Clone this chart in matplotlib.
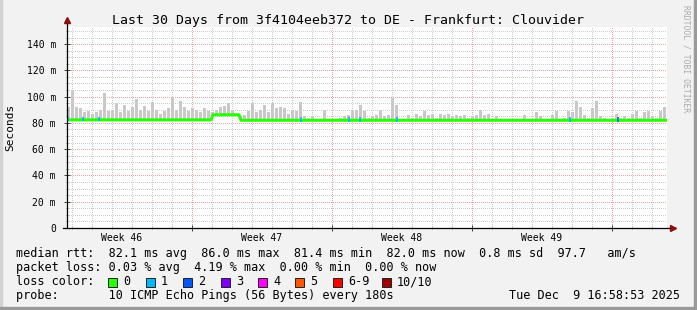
import matplotlib
matplotlib.use("Agg")
import matplotlib.pyplot as plt
import numpy as np
from matplotlib.patches import Rectangle

W, H = 697, 310
MONO = "DejaVu Sans Mono"
plt.rcParams["lines.scale_dashes"] = False

# smoke tops (ms), one value per 0.2 day bin over the 30 days
BIN_DAYS = 0.2
smoke_top = [
    92, 104, 92, 91, 88, 89, 87, 88, 90, 103, 89, 90, 95, 88, 94, 89, 92, 98, 90, 93,
    89, 96, 90, 87, 89, 91, 100, 90, 97, 92, 89, 91, 90, 88, 91, 89, 88, 90, 92, 93,
    95, 89, 87, 85, 86, 89, 95, 88, 90, 94, 88, 95, 91, 92, 91, 87, 90, 89, 96, 85,
    84, 85, 83, 83, 90, 83, 83, 82, 84, 85, 86, 89, 90, 94, 89, 84, 85, 86, 90, 85,
    86, 99, 94, 83, 83, 86, 84, 87, 85, 89, 86, 87, 84, 87, 86, 87, 85, 86, 85, 86,
    84, 85, 86, 90, 86, 87, 83, 85, 82, 83, 82, 82, 83, 83, 86, 82, 83, 88, 85, 82,
    83, 86, 89, 83, 84, 89, 88, 97, 92, 86, 84, 91, 97, 85, 84, 83, 84, 87, 84, 85,
    84, 87, 89, 84, 88, 89, 85, 84, 89, 92,
]

# median rtt (ms) breakpoints
median_days = [0.0, 7.2, 7.3, 8.6, 8.7, 30.0]
median_ms = [82.3, 82.3, 86.2, 86.2, 82.0, 82.0]

# packet loss events (days, lost pings out of 10)
loss_days = [0.07, 0.8, 1.6, 11.7, 14.1, 14.65, 16.5, 25.15, 27.55]
loss_count = [1, 1, 1, 1, 1, 1, 1, 1, 2]

loss_labels = ["0", "1", "2", "3", "4", "5", "6-9", "10/10"]
loss_colors = ["#26ff00", "#00b8ff", "#0059ff", "#7e00ff", "#ff00ff", "#ff5500", "#ff0000", "#a10000"]

week_labels = ["Week 46", "Week 47", "Week 48", "Week 49"]
week_starts = [-0.75, 6.25, 13.25, 20.25, 27.25]

title = "Last 30 Days from 3f4104eeb372 to DE - Frankfurt: Clouvider"
stat_lines = [
    "median rtt:  82.1 ms avg  86.0 ms max  81.4 ms min  82.0 ms now  0.8 ms sd  97.7   am/s",
    "packet loss: 0.03 % avg  4.19 % max  0.00 % min  0.00 % now",
]
probe_text = "probe:       10 ICMP Echo Pings (56 Bytes) every 180s"
stamp_text = "Tue Dec  9 16:58:53 2025"

YMAX = 153


def px(x, y):
    return x / W, 1 - y / H


fig = plt.figure(figsize=(W / 100, H / 100), dpi=100, facecolor="#f2f2f2")

# outer frame
fig.patches.append(Rectangle(px(0, H), 1, 2 / H, transform=fig.transFigure, color="#d2d2d2"))
fig.patches.append(Rectangle(px(0, H), 2 / W, 1, transform=fig.transFigure, color="#d2d2d2"))
fig.patches.append(Rectangle(px(0, H), 1, 3 / H, transform=fig.transFigure, color="#9a9a9a"))
fig.patches.append(Rectangle(px(W - 3, H), 3 / W, 1, transform=fig.transFigure, color="#9a9a9a"))

ax = fig.add_axes([67 / W, (H - 228) / H, 600 / W, (228 - 27) / H])
ax.set_facecolor("white")
ax.set_xlim(0, 30)
ax.set_ylim(0, YMAX)
for s in ax.spines.values():
    s.set_visible(False)

# grid, 1px dots
dot = (0, (0.72, 1.44))
gkw = dict(lw=0.72, ls=dot, antialiased=False)
for d in np.arange(0.25, 30, 1.0):
    ax.axvline(d, color="#cccccc", zorder=0, **gkw)
for v in range(5, YMAX, 5):
    ax.axhline(v, color="#cccccc", zorder=0, **gkw)
for d in week_starts:
    if 0 < d < 30:
        ax.axvline(d, color="#f0a4a4", zorder=0.5, **gkw)
for v in range(20, YMAX, 20):
    ax.axhline(v, color="#f0a4a4", zorder=0.5, **gkw)

# smoke
bin_left = np.arange(len(smoke_top)) * BIN_DAYS
base = np.interp(bin_left + BIN_DAYS / 2, median_days, median_ms)
ax.bar(bin_left, np.array(smoke_top) - base, bottom=base, width=BIN_DAYS * 0.7,
       align="edge", color="#c8c8c8", linewidth=0, zorder=1)

# median line
ax.plot(median_days, median_ms, color=loss_colors[0], lw=2.2, zorder=3, solid_capstyle="butt")
for d, c in zip(loss_days, loss_count):
    m = np.interp(d, median_days, median_ms)
    ax.vlines(d, m - 1.2, m + 2.5, color=loss_colors[c], lw=1.2, zorder=4)

# axes lines with arrows
ax.plot([0, 0], [0, 1.03], transform=ax.transAxes, color="black", lw=0.9, clip_on=False, zorder=5)
ax.plot([-0.006, 1.006], [0, 0], transform=ax.transAxes, color="black", lw=0.9, clip_on=False, zorder=5)
ax.plot([0], [1.035], transform=ax.transAxes, marker="^", ms=4, color="#8b1010", clip_on=False, zorder=6)
ax.plot([1.01], [0], transform=ax.transAxes, marker=">", ms=4, color="#8b1010", clip_on=False, zorder=6)

# ticks
ax.set_yticks(range(0, 141, 20))
ax.set_yticklabels(["0"] + ["%d m" % v for v in range(20, 141, 20)], fontfamily=MONO, fontsize=7)
ax.set_yticks(range(5, YMAX, 5), minor=True)
ax.set_xticks([d for d in week_starts if 0 < d < 30])
ax.set_xticklabels([])
ax.set_xticks(np.arange(0.25, 30, 1.0), minor=True)
ax.tick_params(axis="both", which="major", direction="inout", length=4, width=0.7, color="#404040", pad=6)
ax.tick_params(axis="both", which="minor", direction="inout", length=2, width=0.7, color="#808080")

for lab, d in zip(week_labels, week_starts):
    ax.text(d + 3.5, -0.065, lab, transform=ax.get_xaxis_transform(), ha="center", va="baseline",
            fontfamily=MONO, fontsize=7)

# texts
fig.text(*px(348, 24), title, ha="center", va="baseline", fontfamily=MONO, fontsize=9.5)
fig.text(*px(10, 127), "Seconds", rotation=90, ha="center", va="center", fontfamily=MONO, fontsize=8)
fig.text(*px(686, 5), "RRDTOOL / TOBI OETIKER", rotation=270, ha="center", va="top",
         fontfamily=MONO, fontsize=5.8, color="#aaaaaa")

fig.text(*px(16, 257.5), stat_lines[0], va="baseline", fontfamily=MONO, fontsize=8.5)
fig.text(*px(16, 271.3), stat_lines[1], va="baseline", fontfamily=MONO, fontsize=8.5)
fig.text(*px(16, 285.3), "loss color:", va="baseline", fontfamily=MONO, fontsize=8.5)
box_x = [108, 145.7, 183.3, 220.7, 258, 295.3, 333, 381.7]
for bx, lab, col in zip(box_x, loss_labels, loss_colors):
    fig.patches.append(Rectangle(px(bx, 286.5), 9 / W, 9 / H, transform=fig.transFigure,
                                 facecolor=col, edgecolor="#202020", lw=0.7))
    fig.text(*px(bx + 15, 285.3), lab, va="baseline", fontfamily=MONO, fontsize=8.5)
fig.text(*px(16, 299), probe_text, va="baseline", fontfamily=MONO, fontsize=8.5)
fig.text(*px(680, 299), stamp_text, ha="right", va="baseline", fontfamily=MONO, fontsize=8.5)

fig.savefig("out.png", dpi=100, facecolor=fig.get_facecolor())
